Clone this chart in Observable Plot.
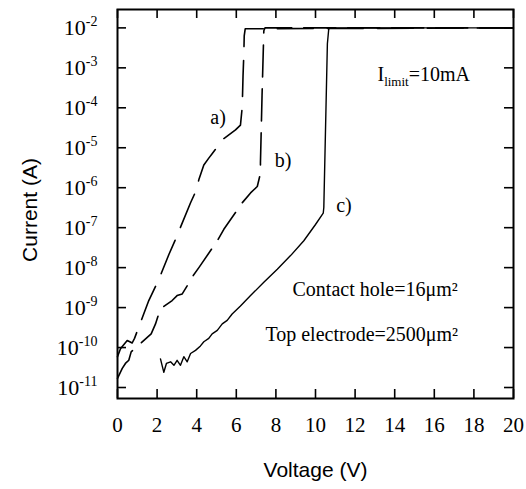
<!DOCTYPE html>
<html><head><meta charset="utf-8">
<script src="https://cdn.jsdelivr.net/npm/d3@7"></script>
<script src="https://cdn.jsdelivr.net/npm/@observablehq/plot@0.6"></script>
<style>body{margin:0;background:#fff;}</style>
</head><body><div id="chart"></div>
<script>
// Curve a)
const aVoltage = [0, 0.15, 0.49, 0.62, 0.74, 0.86, 1.58, 2.09, 2.59, 2.93, 3.69, 3.99, 4.11, 4.36, 4.61, 4.78, 5.37, 5.96, 6.21, 6.30, 6.34, 6.38, 6.40, 6.45, 20];
const aCurrent = [5.9e-11, 9.3e-11, 1.5e-10, 1.4e-10, 1.3e-10, 1.7e-10, 1.5e-9, 5.1e-9, 2.1e-8, 5.1e-8, 4.2e-7, 8.9e-7, 1.6e-6, 3.7e-6, 5.5e-6, 7.1e-6, 1.7e-5, 2.8e-5, 3.7e-5, 1.05e-4, 6.3e-4, 2.2e-3, 6.3e-3, 9.5e-3, 1e-2];
// Curve b)
const bVoltage = [0, 0.24, 0.40, 0.57, 0.69, 1.70, 1.92, 2.00, 2.17, 2.76, 3.01, 3.27, 3.52, 3.77, 4.11, 5.04, 5.37, 6.30, 6.72, 7.06, 7.22, 7.22, 7.30, 7.39, 7.45, 20];
const bCurrent = [1.7e-11, 3.0e-11, 4.0e-11, 4.8e-11, 7.8e-11, 2.2e-10, 3.9e-10, 5.2e-10, 9.3e-10, 1.5e-9, 2.0e-9, 2.2e-9, 3.5e-9, 5.8e-9, 1.0e-8, 4.7e-8, 9.1e-8, 4.2e-7, 7.4e-7, 1.07e-6, 2.3e-6, 4.2e-6, 2.0e-4, 8.5e-3, 1e-2, 1e-2];
// Curve c)
const cVoltage = [2.17, 2.34, 2.47, 2.68, 2.85, 3.01, 3.18, 3.35, 3.52, 3.69, 3.94, 4.19, 4.36, 4.61, 4.78, 5.04, 5.29, 5.54, 5.79, 6.21, 6.72, 7.39, 8.07, 8.74, 9.41, 10.0, 10.39, 10.42, 10.60, 10.67, 10.80, 20];
const cCurrent = [5.2e-11, 2.4e-11, 4.0e-11, 4.4e-11, 3.6e-11, 4.8e-11, 3.6e-11, 5.9e-11, 4.4e-11, 7.1e-11, 8.5e-11, 1.1e-10, 1.4e-10, 1.7e-10, 2.2e-10, 2.7e-10, 3.9e-10, 4.8e-10, 6.9e-10, 1.1e-9, 2.0e-9, 4.3e-9, 9.1e-9, 2.0e-8, 4.7e-8, 1.2e-7, 2.3e-7, 3.2e-7, 4.0e-3, 9.5e-3, 1e-2, 1e-2];

const xTicks = [0, 2, 4, 6, 8, 10, 12, 14, 16, 18, 20];
const yTicks = [1e-11, 1e-10, 1e-9, 1e-8, 1e-7, 1e-6, 1e-5, 1e-4, 1e-3, 1e-2];

const curveLabels = ["a)", "b)", "c)"];
const curveLabelVoltage = [5.08, 8.36, 11.44];
const curveLabelCurrent = [5.7e-5, 4.9e-6, 3.5e-7];

const notes = ["Ilimit=10mA", "Contact hole=16μm²", "Top electrode=2500μm²"];
const noteVoltage = [13.13, 8.84, 7.47];
const noteCurrent = [6.9e-4, 2.8e-9, 2.1e-10];

const xTitle = "Voltage (V)";
const yTitle = "Current (A)";

const toRows = (V, I) => V.map((v, i) => ({v, i: I[i]}));
const serif = "Liberation Serif";
const sans = "Liberation Sans";
const W = 526, H = 489, ML = 117, MR = 13, MT = 9, MB = 91;
const TICK = 9;
const frameW = W - ML - MR, frameH = H - MT - MB;

const chart = Plot.plot({
  width: W, height: H,
  marginLeft: ML, marginRight: MR, marginTop: MT, marginBottom: MB,
  style: {fontFamily: serif, background: "white", color: "black"},
  x: {domain: [0, 20]},
  y: {type: "log", domain: [Math.pow(10, -11.275), Math.pow(10, -1.54)]},
  marks: [
    Plot.line(toRows(aVoltage, aCurrent), {x: "v", y: "i", stroke: "black", strokeWidth: 1.6, strokeDasharray: "36,14"}),
    Plot.line(toRows(bVoltage, bCurrent), {x: "v", y: "i", stroke: "black", strokeWidth: 1.6, strokeDasharray: "32,12"}),
    Plot.line(toRows(cVoltage, cCurrent), {x: "v", y: "i", stroke: "black", strokeWidth: 1.4}),
    // inward tick marks on all four sides
    Plot.tickX(xTicks, {x: d => d, insetTop: frameH - TICK, stroke: "black", strokeWidth: 1.6}),
    Plot.tickX(xTicks, {x: d => d, insetBottom: frameH - TICK, stroke: "black", strokeWidth: 1.6}),
    Plot.tickY(yTicks, {y: d => d, insetRight: frameW - TICK, stroke: "black", strokeWidth: 1.6}),
    Plot.tickY(yTicks, {y: d => d, insetLeft: frameW - TICK, stroke: "black", strokeWidth: 1.6}),
    Plot.frame({stroke: "black", strokeWidth: 2}),
    Plot.axisX({anchor: "bottom", ticks: xTicks, tickSize: 0, tickPadding: 19, label: null, fontSize: 21, fontFamily: serif, tickFormat: d => String(d)}),
    Plot.axisY({anchor: "left", ticks: yTicks, tickSize: 0, tickPadding: 20, label: null, fontSize: 22, fontFamily: serif, tickFormat: d => String(Math.round(Math.log10(d)))}),
    Plot.text(curveLabels, {x: (d, k) => curveLabelVoltage[k], y: (d, k) => curveLabelCurrent[k], text: d => d, fontSize: 20, fontFamily: serif, textAnchor: "middle"}),
    Plot.text(notes, {x: (d, k) => noteVoltage[k], y: (d, k) => noteCurrent[k], text: d => d, fontSize: 20, fontFamily: serif, textAnchor: "start"}),
    Plot.text([yTitle], {frameAnchor: "left", text: d => d, rotate: -90, dx: -87, dy: 6, fontSize: 21, fontFamily: sans, textAnchor: "middle", lineAnchor: "middle"}),
    Plot.text([xTitle], {frameAnchor: "bottom", text: d => d, dy: 72, fontSize: 21, fontFamily: sans, textAnchor: "middle", lineAnchor: "middle"})
  ]
});

const NS = "http://www.w3.org/2000/svg";
function tspan(parent, txt, attrs) {
  const t = document.createElementNS(NS, "tspan");
  t.textContent = txt;
  for (const k in attrs) t.setAttribute(k, attrs[k]);
  parent.appendChild(t);
  return t;
}
// superscript exponents on y tick labels
chart.querySelectorAll('g[aria-label="y-axis tick label"] text').forEach(t => {
  const e = t.textContent;
  if (!e) return;
  t.textContent = "";
  tspan(t, "10", {});
  tspan(t, e, {"font-size": "14", dy: "-9"});
});
// subscript in I_limit note
chart.querySelectorAll("text").forEach(t => {
  if (t.textContent === notes[0]) {
    t.textContent = "";
    tspan(t, "I", {});
    tspan(t, "limit", {"font-size": "13", dy: "5"});
    tspan(t, "=10mA", {dy: "-5"});
  }
});
document.getElementById("chart").appendChild(chart);
</script>
</body></html>
